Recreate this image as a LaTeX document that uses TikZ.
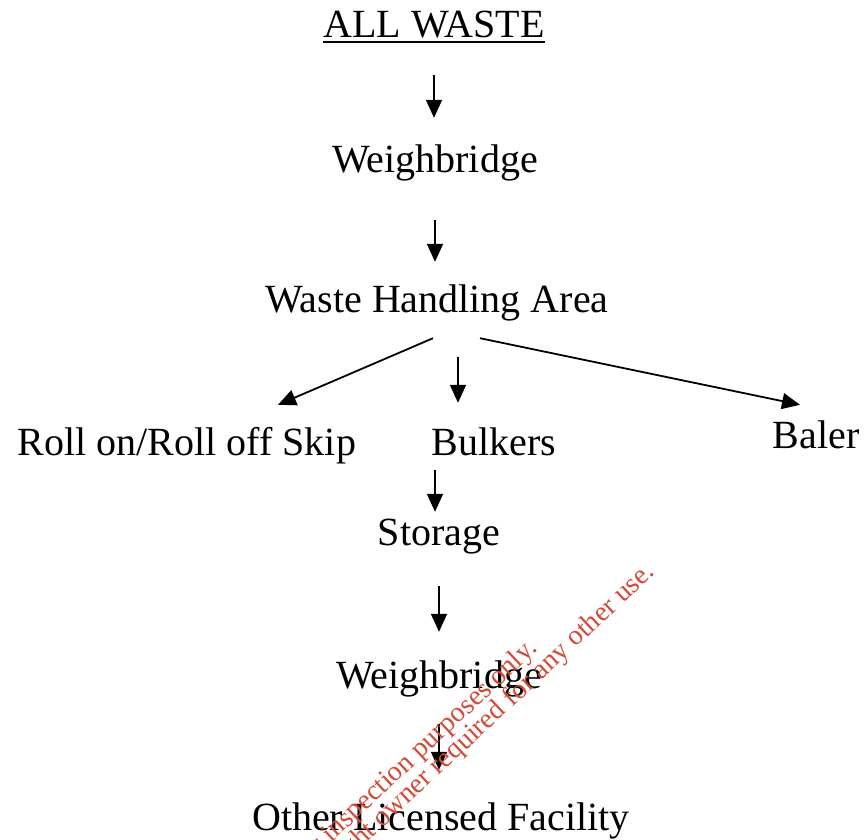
\documentclass[tikz,border=0pt]{standalone}
\usepackage{fontspec}
\setmainfont{Liberation Serif}
\usetikzlibrary{arrows.meta}
\definecolor{stampred}{RGB}{212,74,56}
\begin{document}
\begin{tikzpicture}[x=1pt,y=-1pt,
    box/.style={inner sep=0pt, anchor=base, text height=28pt, text depth=9pt,
      font=\fontsize{40}{48}\selectfont},
    flow/.style={line width=1.8pt, -{Triangle[length=18pt,width=16pt]}},
    stamp/.style={anchor=base, rotate=43, inner sep=0pt, text=stampred,
      font=\fontsize{28}{28}\selectfont}]
    \useasboundingbox (0,0) rectangle (867,839);
    \node[box] (waste) at (434,37) {ALL WASTE};
    \draw[line width=2pt] ([yshift=-5pt]waste.base west) -- ([yshift=-5pt]waste.base east);
    \node[box] (wb1) at (435,172) {Weighbridge};
    \node[box] (wha) at (437,312) {Waste Handling Area};
    \node[box] (roll) at (187,455) {Roll on/Roll off Skip};
    \node[box] (bulk) at (494,455) {Bulkers};
    \node[box] (baler) at (816,448) {Baler};
    \node[box] (stor) at (439,545) {Storage};
    \node[box] (wb2) at (439,688) {Weighbridge};
    \node[box] (olf) at (441,830) {Other Licensed Facility};
    \foreach \a/\b/\s/\e in {waste/wb1/29/26, wb1/wha/39/22, stor/wb2/32/28, wb2/olf/27/32} {
      \draw[flow] ([yshift=-\s pt]\a.south) -- ([yshift=\e pt]\a.south |- \b.north);
    }
    \draw[flow] ([xshift=-4pt,yshift=-17pt]wha.south) -- ([xshift=91pt,yshift=22pt]roll.north);
    \draw[flow] ([xshift=21pt,yshift=-36pt]wha.south) -- ([xshift=-36pt,yshift=24pt]bulk.north);
    \draw[flow] ([xshift=43pt,yshift=-17pt]wha.south) -- ([xshift=-16pt,yshift=15pt]baler.north);
    \draw[flow] ([xshift=-59pt,yshift=-6pt]bulk.south) -- ([xshift=-4pt,yshift=5pt]stor.north);
    \begin{scope}
      \clip (0,0) rectangle (867,839);
      \node[stamp] (note1) at (418,762) {For inspection purposes only.};
      \node[stamp] (note2) at (430,784) {Consent of copyright owner required for any other use.};
    \end{scope}
\end{tikzpicture}
\end{document}
